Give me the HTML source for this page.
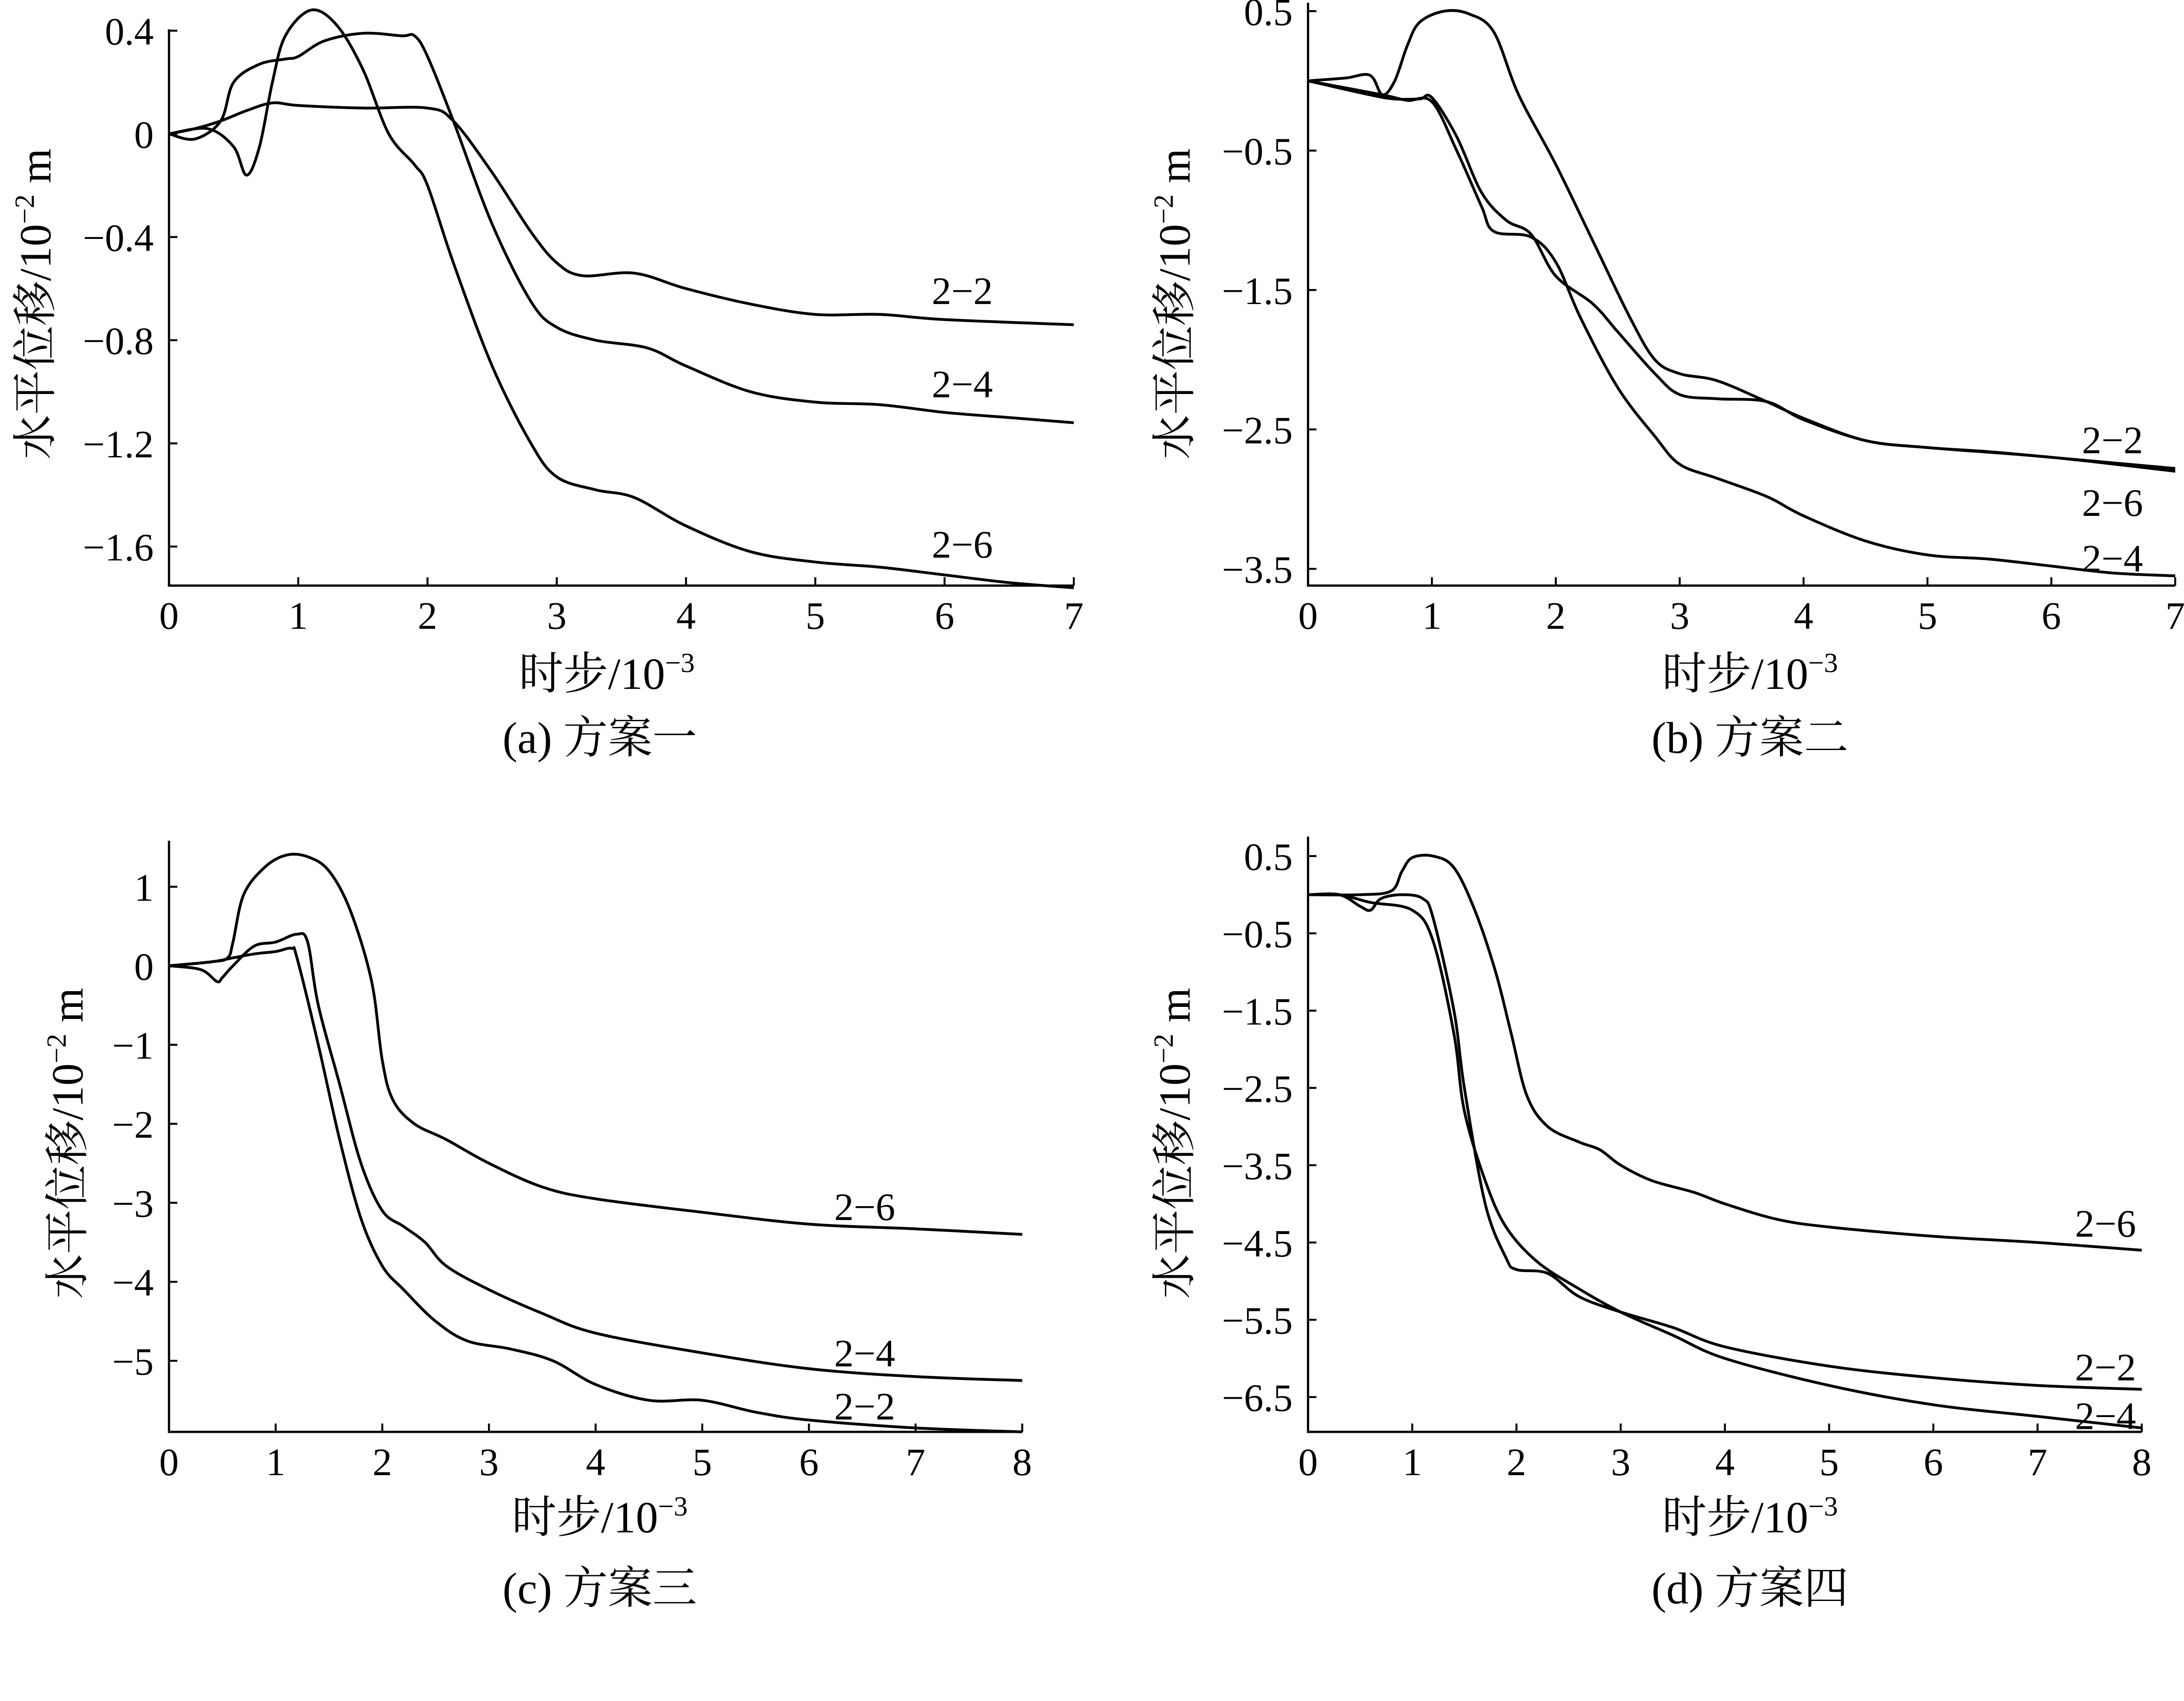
<!DOCTYPE html>
<html><head><meta charset="utf-8">
<style>
html,body{margin:0;padding:0;background:#fff;overflow:hidden;}
svg{display:block;}
text{font-family:"Liberation Serif","Noto Serif CJK SC","Noto Sans CJK SC",serif;fill:#000;}
</style></head>
<body>
<svg id="fig" width="5287" height="3894" viewBox="0 0 1656 1220" xmlns="http://www.w3.org/2000/svg"></svg>
<script>
// ---- data ----
const panelTitles = ["(a) 方案一","(b) 方案二","(c) 方案三","(d) 方案四"];
const seriesNames = [["2−2","2−4","2−6"],["2−2","2−6","2−4"],["2−6","2−4","2−2"],["2−6","2−2","2−4"]];
const xTicksA = [0,1,2,3,4,5,6,7];
const xTicksC = [0,1,2,3,4,5,6,7,8];
const yTicksA = [0.4,0,-0.4,-0.8,-1.2,-1.6];
const yLabelsA = ["0.4","0","−0.4","−0.8","−1.2","−1.6"];
const yTicksB = [0.5,-0.5,-1.5,-2.5,-3.5];
const yLabelsB = ["0.5","−0.5","−1.5","−2.5","−3.5"];
const yTicksC = [1,0,-1,-2,-3,-4,-5];
const yLabelsC = ["1","0","−1","−2","−3","−4","−5"];
const yTicksD = [0.5,-0.5,-1.5,-2.5,-3.5,-4.5,-5.5,-6.5];
const yLabelsD = ["0.5","−0.5","−1.5","−2.5","−3.5","−4.5","−5.5","−6.5"];

const a22x=[0,0.2,0.4,0.6,0.8,1.0,1.5,2.0,2.2,2.5,2.8,3.0,3.2,3.6,4.0,4.5,5.0,5.5,6.0,7.0];
const a22y=[0,0.02,0.05,0.09,0.12,0.11,0.1,0.1,0.05,-0.15,-0.38,-0.5,-0.55,-0.54,-0.6,-0.66,-0.7,-0.7,-0.72,-0.74];
const a24x=[0,0.2,0.4,0.5,0.7,0.9,1.0,1.2,1.5,1.8,1.9,2.0,2.2,2.5,2.8,3.0,3.3,3.7,4.0,4.5,5.0,5.5,6.0,6.5,7.0];
const a24y=[0,-0.02,0.05,0.2,0.27,0.29,0.3,0.36,0.39,0.38,0.38,0.3,0.05,-0.35,-0.65,-0.75,-0.8,-0.83,-0.9,-1.0,-1.04,-1.05,-1.08,-1.1,-1.12];
const a26x=[0,0.3,0.5,0.6,0.7,0.8,0.9,1.1,1.3,1.5,1.7,1.9,2.0,2.2,2.5,2.8,3.0,3.3,3.6,4.0,4.5,5.0,5.5,6.0,6.5,7.0];
const a26y=[0,0.02,-0.05,-0.16,-0.05,0.2,0.38,0.48,0.42,0.25,0.0,-0.12,-0.2,-0.5,-0.9,-1.2,-1.33,-1.38,-1.41,-1.52,-1.62,-1.66,-1.68,-1.71,-1.74,-1.76];

const b22x=[0,0.3,0.5,0.6,0.7,0.8,0.9,1.1,1.3,1.5,1.7,2.0,2.3,2.6,2.8,3.0,3.3,3.7,4.0,4.5,5.0,5.5,6.0,7.0];
const b22y=[0,0.02,0.04,-0.1,0.0,0.25,0.42,0.5,0.48,0.35,-0.1,-0.6,-1.15,-1.7,-2.0,-2.1,-2.15,-2.3,-2.42,-2.58,-2.63,-2.66,-2.7,-2.78];
const b26x=[0,0.5,0.7,0.9,1.0,1.2,1.4,1.6,1.8,2.0,2.3,2.5,2.8,3.0,3.3,3.7,4.0,4.5,5.0,6.0,7.0];
const b26y=[0,-0.1,-0.13,-0.13,-0.12,-0.4,-0.8,-1.0,-1.1,-1.4,-1.6,-1.8,-2.1,-2.25,-2.28,-2.3,-2.43,-2.58,-2.63,-2.7,-2.8];
const b24x=[0,0.6,0.8,1.0,1.2,1.4,1.5,1.8,2.0,2.2,2.5,2.8,3.0,3.3,3.7,4.0,4.5,5.0,5.5,6.0,6.5,7.0];
const b24y=[0,-0.1,-0.14,-0.15,-0.5,-0.9,-1.08,-1.12,-1.3,-1.7,-2.2,-2.55,-2.75,-2.85,-2.98,-3.12,-3.3,-3.4,-3.43,-3.48,-3.53,-3.55];

const c26x=[0,0.4,0.55,0.6,0.7,0.9,1.1,1.3,1.5,1.7,1.9,2.0,2.1,2.3,2.6,3.0,3.5,4.0,5.0,6.0,7.0,8.0];
const c26y=[0,0.05,0.1,0.3,0.9,1.25,1.4,1.38,1.2,0.7,-0.2,-1.2,-1.7,-2.0,-2.2,-2.5,-2.8,-2.95,-3.12,-3.27,-3.33,-3.4];
const c24x=[0,0.3,0.45,0.5,0.6,0.8,1.0,1.2,1.3,1.4,1.6,1.8,2.0,2.2,2.4,2.6,3.0,3.5,4.0,5.0,6.0,7.0,8.0];
const c24y=[0,-0.05,-0.2,-0.15,0.0,0.25,0.3,0.4,0.3,-0.5,-1.5,-2.5,-3.1,-3.3,-3.5,-3.8,-4.1,-4.4,-4.65,-4.9,-5.1,-5.2,-5.25];
const c22x=[0,0.4,0.6,0.8,1.0,1.15,1.2,1.4,1.6,1.8,2.0,2.2,2.5,2.8,3.2,3.6,4.0,4.5,5.0,5.5,6.0,7.0,8.0];
const c22y=[0,0.05,0.1,0.15,0.18,0.22,0.1,-1.0,-2.2,-3.2,-3.8,-4.1,-4.5,-4.75,-4.85,-5.0,-5.3,-5.5,-5.5,-5.65,-5.75,-5.85,-5.9];

const d26x=[0,0.5,0.8,0.9,1.0,1.2,1.4,1.6,1.8,1.95,2.1,2.3,2.6,2.8,3.0,3.3,3.7,4.0,4.5,5.0,6.0,7.0,8.0];
const d26y=[0,0.0,0.05,0.3,0.48,0.5,0.35,-0.2,-1.0,-1.8,-2.6,-3.0,-3.2,-3.3,-3.5,-3.7,-3.85,-4.0,-4.2,-4.3,-4.42,-4.5,-4.6];
const d22x=[0,0.3,0.5,0.6,0.7,0.9,1.1,1.2,1.4,1.5,1.7,1.9,2.0,2.3,2.6,3.0,3.5,4.0,5.0,6.0,7.0,8.0];
const d22y=[0,0.0,-0.15,-0.2,-0.05,0.0,-0.05,-0.3,-1.5,-2.5,-4.0,-4.7,-4.85,-4.9,-5.2,-5.4,-5.6,-5.85,-6.1,-6.25,-6.35,-6.4];
const d24x=[0,0.3,0.6,1.0,1.2,1.4,1.5,1.7,1.9,2.2,2.6,3.0,3.5,4.0,5.0,6.0,7.0,8.0];
const d24y=[0,0.0,-0.1,-0.2,-0.6,-1.8,-2.8,-3.7,-4.3,-4.75,-5.1,-5.4,-5.7,-6.0,-6.35,-6.6,-6.75,-6.9];

// ---- drawing ----
const NS="http://www.w3.org/2000/svg";
const svg=document.getElementById('fig');
function el(tag,attrs,parent){const e=document.createElementNS(NS,tag);for(const k in attrs)e.setAttribute(k,attrs[k]);(parent||svg).appendChild(e);return e;}
function smooth(pts){let d=`M${pts[0][0].toFixed(2)},${pts[0][1].toFixed(2)}`;
  for(let i=0;i<pts.length-1;i++){const p0=pts[Math.max(0,i-1)],p1=pts[i],p2=pts[i+1],p3=pts[Math.min(pts.length-1,i+2)];
    const c1=[p1[0]+(p2[0]-p0[0])/6,p1[1]+(p2[1]-p0[1])/6],c2=[p2[0]-(p3[0]-p1[0])/6,p2[1]-(p3[1]-p1[1])/6];
    d+=` C${c1[0].toFixed(2)},${c1[1].toFixed(2)} ${c2[0].toFixed(2)},${c2[1].toFixed(2)} ${p2[0].toFixed(2)},${p2[1].toFixed(2)}`;}
  return d;}

const panels=[
 {id:'a',x0:121,x1:770,xmax:7,xt:xTicksA,yv0:0.4,yp0:22,yv1:-1.6,yp1:392,yb:420,ytop:21,yt:yTicksA,yl:yLabelsA,
  series:[[a22x,a22y],[a24x,a24y],[a26x,a26y]],lab:[[690,218],[690,285],[690,400]],ytitle:[25,218],xtitle:[435,494],cap:[430,540]},
 {id:'b',x0:938,x1:1560,xmax:7,xt:xTicksA,yv0:0.5,yp0:8,yv1:-3.5,yp1:408,yb:420,ytop:2,yt:yTicksB,yl:yLabelsB,
  series:[[b22x,b22y],[b26x,b26y],[b24x,b24y]],lab:[[1515,325],[1515,370],[1515,410]],ytitle:[842,218],xtitle:[1255,494],cap:[1255,540]},
 {id:'c',x0:121,x1:733,xmax:8,xt:xTicksC,yv0:1,yp0:636,yv1:-5,yp1:976,yb:1027,ytop:603,yt:yTicksC,yl:yLabelsC,
  series:[[c26x,c26y],[c24x,c24y],[c22x,c22y]],lab:[[620,875],[620,980],[620,1018]],ytitle:[48,820],xtitle:[430,1099],cap:[430,1150]},
 {id:'d',x0:938,x1:1536,xmax:8,xt:xTicksC,yv0:0.5,yp0:614,yv1:-6.5,yp1:1002,yb:1027,ytop:600,yt:yTicksD,yl:yLabelsD,
  series:[[d26x,d26y],[d22x,d22y],[d24x,d24y]],lab:[[1510,887],[1510,990],[1510,1025]],ytitle:[842,820],xtitle:[1255,1099],cap:[1255,1150]}
];

panels.forEach((p,pi)=>{
  const g=el('g',{});
  
  
  const X=v=>p.x0+(p.x1-p.x0)*v/p.xmax;
  const Y=v=>p.yp0+(p.yp1-p.yp0)*(v-p.yv0)/(p.yv1-p.yv0);
  const ax=el('path',{d:`M${p.x0},${p.ytop} V${p.yb} H${p.x1}`,fill:'none',stroke:'#000','stroke-width':1.6},g);
  
  
  p.xt.forEach(t=>{
    el('line',{x1:X(t),x2:X(t),y1:p.yb,y2:p.yb-6,stroke:'#000','stroke-width':1.4},g);
    const tx=el('text',{x:X(t),y:p.yb+31,'font-size':28,'text-anchor':'middle'},g);
    tx.textContent=t;
    
    
  });
  p.yt.forEach((t,i)=>{
    el('line',{x1:p.x0,x2:p.x0+6,y1:Y(t),y2:Y(t),stroke:'#000','stroke-width':1.4},g);
    const tx=el('text',{x:p.x0-11,y:Y(t)+10,'font-size':28,'text-anchor':'end'},g);
    tx.textContent=p.yl[i];
    
    
  });
  p.series.forEach((s,si)=>{
    const pts=s[0].map((x,i)=>[X(x),Y(s[1][i])]);
    const path=el('path',{d:smooth(pts),fill:'none',stroke:'#000','stroke-width':2},g);
    
    
    const lb=el('text',{x:p.lab[si][0],y:p.lab[si][1],'font-size':28,'text-anchor':'middle'},g);
    lb.textContent=seriesNames[pi][si];
    
    
  });
  const yt=el('text',{x:p.ytitle[0],y:p.ytitle[1],'font-size':32,'text-anchor':'middle',transform:`rotate(-90 ${p.ytitle[0]} ${p.ytitle[1]})`,dy:11},g);
  yt.innerHTML='水平位移/10<tspan dy="-12" font-size="20">−2</tspan><tspan dy="12"> m</tspan>';
  
  
  const xt=el('text',{x:p.xtitle[0],y:p.xtitle[1],'font-size':32,'text-anchor':'middle'},g);
  xt.innerHTML='时步/10<tspan dy="-12" font-size="20">−3</tspan>';
  
  
  const cp=el('text',{x:p.cap[0],y:p.cap[1],'font-size':32,'text-anchor':'middle'},g);
  cp.textContent=panelTitles[pi];
  
  
});
</script>
</body></html>
